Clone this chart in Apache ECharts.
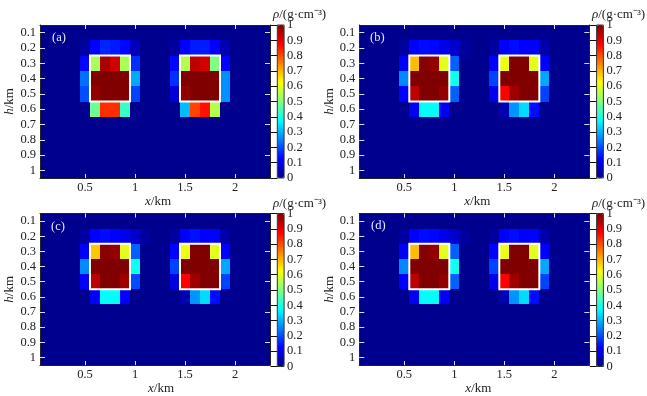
<!DOCTYPE html>
<html>
<head>
<meta charset="utf-8">
<style>html,body{margin:0;padding:0;background:#fff}#c{width:647px;height:396px}</style>
<script src="https://cdn.jsdelivr.net/npm/echarts@6/dist/echarts.min.js"></script>
</head>
<body>
<div id="c"></div>
<script>
// Categories (km)
const xCats = ['0.1','0.2','0.3','0.4','0.5','0.6','0.7','0.8','0.9','1','1.1','1.2','1.3','1.4','1.5','1.6','1.7','1.8','1.9','2','2.1','2.2','2.3'];
const hCats = ['0.1','0.2','0.3','0.4','0.5','0.6','0.7','0.8','0.9','1'];
const xTickLabels = ['0.5','1','1.5','2'];
const rhoTicks = [0, 1];
const panelNames = ['(a)','(b)','(c)','(d)'];

// Density per row (h) for each panel, columns follow xCats
const rhoA = [
 [0,0,0,0,0,0,0,0,0,0,0,0,0,0,0,0,0,0,0,0,0,0,0],
 [0,0,0,0,.02,.125,.16,.15,.13,.05,0,0,0,.02,.125,.15,.15,.125,.04,0,0,0,0],
 [0,0,0,0,.13,.54,.96,.92,.54,.17,0,0,0,.13,.55,.94,.92,.5,.12,0,0,0,0],
 [0,0,0,0,.235,1,1,1,1,.29,0,0,0,.17,1,1,1,1,.265,0,0,0,0],
 [0,0,0,0,.2,.98,1,1,1,.19,0,0,0,.08,.98,1,1,1,.265,0,0,0,0],
 [0,0,0,0,0,.48,.83,.83,.43,0,0,0,0,0,.31,.81,.86,.55,0,0,0,0,0],
 [0,0,0,0,0,0,0,0,0,0,0,0,0,0,0,0,0,0,0,0,0,0,0],
 [0,0,0,0,0,0,0,0,0,0,0,0,0,0,0,0,0,0,0,0,0,0,0],
 [0,0,0,0,0,0,0,0,0,0,0,0,0,0,0,0,0,0,0,0,0,0,0],
 [0,0,0,0,0,0,0,0,0,0,0,0,0,0,0,0,0,0,0,0,0,0,0]
];
const rhoB = [
 [0,0,0,0,0,0,0,0,0,0,0,0,0,0,0,0,0,0,0,0,0,0,0],
 [0,0,0,0,.02,.125,.135,.13,.1,.07,.02,0,0,.02,.125,.135,.125,.125,.03,0,0,0,0],
 [0,0,0,0,.125,.69,.995,.98,.6,.22,0,0,0,.125,.61,1,1,.6,.125,0,0,0,0],
 [0,0,0,0,.26,1,1,1,1,.39,0,0,0,.19,1,1,1,1,.29,0,0,0,0],
 [0,0,0,0,.125,.94,1,1,.98,.22,0,0,0,.1,.875,.97,1,1,.19,0,0,0,0],
 [0,0,0,0,0,.11,.375,.375,.11,0,0,0,0,0,.04,.27,.34,.135,0,0,0,0,0],
 [0,0,0,0,0,0,0,0,0,0,0,0,0,0,0,0,0,0,0,0,0,0,0],
 [0,0,0,0,0,0,0,0,0,0,0,0,0,0,0,0,0,0,0,0,0,0,0],
 [0,0,0,0,0,0,0,0,0,0,0,0,0,0,0,0,0,0,0,0,0,0,0],
 [0,0,0,0,0,0,0,0,0,0,0,0,0,0,0,0,0,0,0,0,0,0,0]
];
const rhoC = [
 [0,0,0,0,0,0,0,0,0,0,0,0,0,0,0,0,0,0,0,0,0,0,0],
 [0,0,0,0,.02,.125,.135,.125,.1,.07,.02,0,0,.02,.125,.14,.125,.125,.03,0,0,0,0],
 [0,0,0,0,.125,.68,.99,.98,.6,.22,0,0,0,.125,.61,1,1,.6,.125,0,0,0,0],
 [0,0,0,0,.26,1,1,1,1,.39,0,0,0,.19,1,1,1,1,.29,0,0,0,0],
 [0,0,0,0,.12,.94,1,1,.97,.2,0,0,0,.09,.875,.97,1,1,.19,0,0,0,0],
 [0,0,0,0,0,.12,.375,.375,.12,0,0,0,0,0,.04,.27,.34,.135,0,0,0,0,0],
 [0,0,0,0,0,0,0,0,0,0,0,0,0,0,0,0,0,0,0,0,0,0,0],
 [0,0,0,0,0,0,0,0,0,0,0,0,0,0,0,0,0,0,0,0,0,0,0],
 [0,0,0,0,0,0,0,0,0,0,0,0,0,0,0,0,0,0,0,0,0,0,0],
 [0,0,0,0,0,0,0,0,0,0,0,0,0,0,0,0,0,0,0,0,0,0,0]
];
const rhoD = [
 [0,0,0,0,0,0,0,0,0,0,0,0,0,0,0,0,0,0,0,0,0,0,0],
 [0,0,0,0,.02,.125,.135,.13,.1,.07,.02,0,0,.02,.125,.135,.125,.125,.03,0,0,0,0],
 [0,0,0,0,.125,.69,.995,.98,.6,.22,0,0,0,.125,.61,1,1,.6,.125,0,0,0,0],
 [0,0,0,0,.26,1,1,1,1,.39,0,0,0,.19,1,1,1,1,.29,0,0,0,0],
 [0,0,0,0,.125,.94,1,1,.98,.22,0,0,0,.1,.875,.97,1,1,.19,0,0,0,0],
 [0,0,0,0,0,.11,.375,.375,.11,0,0,0,0,0,.04,.27,.34,.135,0,0,0,0,0],
 [0,0,0,0,0,0,0,0,0,0,0,0,0,0,0,0,0,0,0,0,0,0,0],
 [0,0,0,0,0,0,0,0,0,0,0,0,0,0,0,0,0,0,0,0,0,0,0],
 [0,0,0,0,0,0,0,0,0,0,0,0,0,0,0,0,0,0,0,0,0,0,0],
 [0,0,0,0,0,0,0,0,0,0,0,0,0,0,0,0,0,0,0,0,0,0,0]
];
const panelData = [rhoA, rhoB, rhoC, rhoD];

// True model outlines (km)
const bodyLeftX = [0.55, 0.95, 0.95, 0.55, 0.55];
const bodyRightX = [1.45, 1.85, 1.85, 1.45, 1.45];
const bodyH = [0.25, 0.25, 0.55, 0.55, 0.25];

const jet = ['#00008f','#0000ff','#0080ff','#00ffff','#80ff80','#ffff00','#ff8000','#ff0000','#800000'];
const FONT = '"Liberation Serif","Times New Roman",serif';
const TEXT = '#222';
const TICK = '#d5dcf5';

const layout = [
  {l:40,  t:25,    xn:3,  ln:52, lt:31, cbt:273, cbtop:8},
  {l:359.3,t:25,   xn:3,  ln:370,lt:31, cbt:592, cbtop:8},
  {l:40,  t:213.5, xn:6,  ln:51, lt:220,cbt:273, cbtop:197},
  {l:359.3,t:213.5,xn:4,  ln:371,lt:219,cbt:592, cbtop:197}
];
const W = 230, H = 153;

const grid=[], xAxis=[], yAxis=[], series=[], visualMap=[], title=[];
const nameRich = {
  i:{fontFamily:FONT,fontStyle:'italic',fontWeight:'normal',fontSize:13,color:TEXT},
  r:{fontFamily:FONT,fontWeight:'normal',fontSize:13,color:TEXT}
};
const isXLabel = (i,v)=>xTickLabels.includes(v);

function renderCell(params, api){
  const c = api.coord([api.value(0), api.value(1)]);
  const s = api.size([1,1]);
  const x0 = Math.round(c[0]-s[0]/2), x1 = Math.round(c[0]+s[0]/2);
  const y0 = Math.round(c[1]-s[1]/2), y1 = Math.round(c[1]+s[1]/2);
  return {type:'rect', shape:{x:x0,y:y0,width:x1-x0,height:y1-y0}, style:{fill:api.visual('color')}};
}

layout.forEach((p,k)=>{
  const gi = grid.length;
  grid.push({left:p.l, top:p.t, width:W, height:H, show:false});
  grid.push({left:p.l+W+7.3, top:p.t, width:6.8, height:H, show:true, backgroundColor:'transparent', borderColor:'#333', borderWidth:1, z:10});
  const xBase = xAxis.length, yBase = yAxis.length;
  const line = {show:true, onZero:false, lineStyle:{color:'#222',width:1}};
  xAxis.push({type:'category', gridIndex:gi, data:xCats, position:'bottom', z:6,
    name:'{i|x}{r|/km}', nameLocation:'middle', nameGap:13,
    nameTextStyle:{rich:nameRich, padding:[0,0,0,p.xn*2]},
    axisLine:line, splitLine:{show:false},
    axisTick:{show:true, alignWithLabel:true, inside:true, length:4, interval:isXLabel, lineStyle:{color:TICK}},
    axisLabel:{interval:isXLabel, color:TEXT, fontFamily:FONT, fontSize:12.5, margin:3}});
  xAxis.push({type:'category', gridIndex:gi, data:xCats, position:'top', z:6,
    axisLine:line, splitLine:{show:false},
    axisTick:{show:true, alignWithLabel:true, inside:true, length:4, interval:isXLabel, lineStyle:{color:TICK}},
    axisLabel:{show:false}});
  xAxis.push({type:'value', gridIndex:gi, min:0.05, max:2.35, show:false});
  yAxis.push({type:'category', gridIndex:gi, data:hCats, inverse:true, position:'left', z:6,
    name:'{i|h}{r|/km}', nameLocation:'middle', nameGap:19,
    nameTextStyle:{rich:nameRich},
    axisLine:line, splitLine:{show:false},
    axisTick:{show:true, alignWithLabel:true, inside:true, length:5, lineStyle:{color:TICK}},
    axisLabel:{interval:0, color:TEXT, fontFamily:FONT, fontSize:12.5, margin:4}});
  yAxis.push({type:'category', gridIndex:gi, data:hCats, inverse:true, position:'right', z:6,
    axisLine:line, splitLine:{show:false},
    axisTick:{show:true, alignWithLabel:true, inside:true, length:5, lineStyle:{color:TICK}},
    axisLabel:{show:false}});
  yAxis.push({type:'value', gridIndex:gi, min:0.05, max:1.05, inverse:true, show:false});

  const cells=[];
  panelData[k].forEach((row,r)=>row.forEach((v,c)=>cells.push([c,r,v])));
  const si = series.length;
  series.push({type:'custom', xAxisIndex:xBase, yAxisIndex:yBase, data:cells, renderItem:renderCell,
    encode:{x:0,y:1}, silent:true, animation:false, z:1, clip:false});
  [bodyLeftX, bodyRightX].forEach(xs=>{
    series.push({type:'line', xAxisIndex:xBase+2, yAxisIndex:yBase+2, data:xs.map((x,i)=>[x,bodyH[i]]),
      symbol:'none', silent:true, animation:false, z:5, clip:false,
      lineStyle:{color:'#fff', width:2, cap:'square', join:'miter'}});
  });
  visualMap.push({type:'continuous', seriesIndex:si, dimension:2, min:0, max:1, calculable:false, show:true,
    left:p.l+W+7.3, top:p.t, itemWidth:6.8, itemHeight:H, padding:0, z:1, text:null,
    inRange:{color:jet}, textStyle:{color:'transparent',fontSize:1}});
  xAxis.push({type:'value', gridIndex:gi+1, min:0, max:1, show:false});
  yAxis.push({type:'value', gridIndex:gi+1, min:rhoTicks[0], max:rhoTicks[1], interval:0.1, position:'right', z:10,
    axisLine:{show:false}, splitLine:{show:false},
    axisTick:{show:true, inside:true, length:6.8, lineStyle:{color:'#111',width:1}},
    axisLabel:{color:TEXT, fontFamily:FONT, fontSize:12.5, margin:3}});
  title.push({text:panelNames[k], left:p.ln, top:p.lt, padding:0,
    textStyle:{color:'#e4e9ff', fontFamily:FONT, fontWeight:'normal', fontSize:12.5}});
  title.push({text:'{i|ρ}{r|/(g·cm⁻³)}', left:p.cbt, top:p.cbtop, padding:0,
    textStyle:{rich:nameRich, fontWeight:'normal'}});
});

const chart = echarts.init(document.getElementById('c'), null, {renderer:'canvas'});
chart.setOption({animation:false, backgroundColor:'#fff', tooltip:{show:false}, title, grid, xAxis, yAxis, visualMap, series});
</script>
</body>
</html>
